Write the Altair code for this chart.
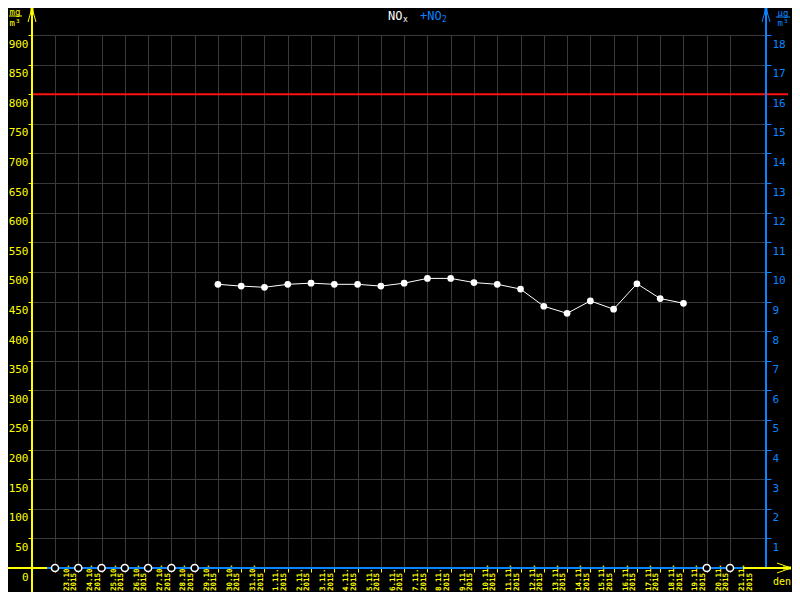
import altair as alt
import pandas as pd

# ---- data ----
dates = ["23.10.", "24.10.", "25.10.", "26.10.", "27.10.", "28.10.", "29.10.",
         "30.10.", "31.10.", "1.11.", "2.11.", "3.11.", "4.11.", "5.11.", "6.11.",
         "7.11.", "8.11.", "9.11.", "10.11.", "11.11.", "12.11.", "13.11.", "14.11.",
         "15.11.", "16.11.", "17.11.", "18.11.", "19.11.", "20.11.", "21.11."]
year = "2015"
nox = [None] * 7 + [479, 476, 474, 479, 481, 479, 479, 476, 481, 489, 489, 482,
                    479, 471, 442, 430, 451, 437, 480, 455, 447] + [None, None]
limit = [800]
left_ticks = list(range(0, 901, 50))
right_ticks = list(range(1, 19))
right_domain = [0, 18]

YEL = "#ffff00"
BLUE = "#0a84ff"
GRID = "#3a3a3a"
FONT = "DejaVu Sans Mono"

df = pd.DataFrame({
    "idx": list(range(len(dates))),
    "label": [d + "\n" + year for d in dates],
    "nox": nox,
})
df["zero"] = 0
one = pd.DataFrame({"a": [0]})

xs = alt.Scale(domain=[-0.988, 30.546], nice=False, zero=False)
x_axis = alt.Axis(values=list(range(len(dates))), grid=True, gridColor=GRID,
                  domain=False, ticks=True, tickColor=YEL, tickSize=4,
                  labels=False, title=None)
X = alt.X("idx:Q", scale=xs, axis=x_axis)

ys = alt.Scale(domain=[0, 900], nice=False, zero=True)
y_axis = alt.Axis(values=left_ticks, orient="left", grid=True, gridColor=GRID,
                  domain=False, tickColor=YEL, tickSize=4, labelColor=YEL,
                  labelFont=FONT, labelFontSize=11, labelBaseline="top",
                  labelOffset=3, labelPadding=0, labelFlush=False,
                  labelOverlap=False, title=None)


def seg(x1, y1, x2, y2, color, w):
    return alt.Chart(one).mark_rule(color=color, strokeWidth=w).encode(
        x=alt.value(x1), y=alt.value(y1), x2=alt.value(x2), y2=alt.value(y2))


def txt(x, y, s, color, size, align="center", baseline="middle"):
    return alt.Chart(one).mark_text(color=color, fontSize=size, font=FONT,
                                    align=align, baseline=baseline).encode(
        x=alt.value(x), y=alt.value(y), text=alt.value(s))


valid = alt.Chart(df).transform_filter("datum.nox != null")

red = alt.Chart(pd.DataFrame({"limit": limit})).mark_rule(
    color="#ff1010", strokeWidth=2).encode(
    y=alt.Y("limit:Q", scale=ys, axis=y_axis), x=alt.value(0), x2=alt.value(756))

line = valid.mark_line(color="white", strokeWidth=1).encode(
    x=X, y=alt.Y("nox:Q", scale=ys, axis=y_axis))
pts = valid.mark_circle(color="white", size=45, opacity=1).encode(
    x=X, y=alt.Y("nox:Q", scale=ys, axis=y_axis))
empty = alt.Chart(df).transform_filter("datum.nox == null").mark_point(
    shape="circle", filled=False, color="white", fill="black", fillOpacity=1,
    size=50, strokeWidth=1.5, opacity=1).encode(
    x=X, y=alt.Y("zero:Q", scale=ys, axis=y_axis))

labels = alt.Chart(df).mark_text(
    angle=270, align="left", baseline="top", dy=8, lineBreak="\n",
    lineHeight=7.5, font=FONT, fontSize=7.5, fontWeight="bold", color=YEL).encode(
    x=X, y=alt.value(556), text="label:N")

decor = [
    # left axis with arrow
    seg(0, -27, 0, 557, YEL, 2),
    seg(0, -27, -4, -13, YEL, 1), seg(0, -27, 4, -13, YEL, 1),
    seg(0, -27, 0, -20, YEL, 3),
    # right axis with arrow
    seg(734, -27, 734, 533, BLUE, 2),
    seg(734, -27, 730, -13, BLUE, 1), seg(734, -27, 738, -13, BLUE, 1),
    seg(734, -27, 734, -20, BLUE, 3),
    # x axis
    seg(-24, 533, 758, 533, YEL, 2),
    seg(15, 533, 711, 533, BLUE, 2),
    seg(759, 533, 745, 528, YEL, 1), seg(759, 533, 745, 538, YEL, 1),
    seg(751, 533, 759, 533, YEL, 3),
    txt(759, 547, "den", YEL, 10, align="right"),
    # units
    txt(-17, -23, "mg", YEL, 9), seg(-23, -19, -10, -19, YEL, 1),
    txt(-17, -12, "m³", YEL, 9),
    txt(751, -22, "µg", BLUE, 9), seg(744, -18, 758, -18, BLUE, 1),
    txt(751, -12, "m³", BLUE, 9),
    # title
    txt(356, -19, "NO", "white", 12, align="left"),
    txt(371, -15, "x", "white", 8, align="left"),
    txt(388, -19, "+NO", BLUE, 12, align="left"),
    txt(410, -15, "2", BLUE, 8, align="left"),
]

left = alt.layer(red, line, pts, *decor, empty, labels)

right = alt.Chart(pd.DataFrame({"v": right_domain})).mark_point(opacity=0).encode(
    y=alt.Y("v:Q", scale=alt.Scale(domain=right_domain, nice=False),
            axis=alt.Axis(orient="right", values=right_ticks, domain=False,
                          grid=False, tickColor=BLUE, tickSize=5,
                          labelColor=BLUE, labelFont=FONT, labelFontSize=11,
                          labelBaseline="top", labelOffset=3, labelPadding=1,
                          labelFlush=False, labelOverlap=False, title=None)))

chart = alt.layer(left, right).resolve_scale(y="independent").properties(
    width=734, height=533, background="black",
    padding={"left": 24, "top": 27, "right": 26, "bottom": 24},
    autosize=alt.AutoSizeParams(type="none"),
).configure_view(strokeWidth=0)

chart.save("out.html", embed_options={"renderer": "svg", "actions": False})
